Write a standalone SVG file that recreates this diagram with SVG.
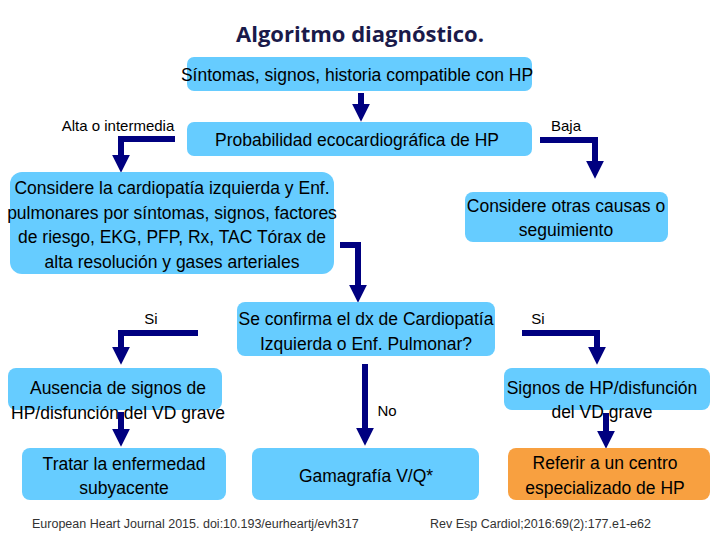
<svg xmlns="http://www.w3.org/2000/svg" width="720" height="540" viewBox="0 0 720 540">
<defs>
<style>
.b{fill:#66CCFF}
.o{fill:#F8A040}
text{font-family:"Liberation Sans",Arial,sans-serif;font-size:17.5px;fill:#000;text-anchor:middle}
.l{font-size:15px}
.f{font-size:12.5px;fill:#333;text-anchor:start}
.c{fill:none;stroke:#000080;stroke-width:6}
</style>
<marker id="a" markerWidth="3" markerHeight="3" refX="1.2" refY="1.5" orient="auto" markerUnits="strokeWidth"><path d="M0,0L3,1.5L0,3z" fill="#000080"/></marker>
</defs>
<rect width="720" height="540" fill="#fff"/>
<text x="360" y="42" style="font-family:'Open Sans',sans-serif;font-weight:bold;font-size:22px;fill:#1a1a4a">Algoritmo diagnóstico.</text>
<g id="connectors">
<path class="c" d="M361,93V111" marker-end="url(#a)"/>
<path class="c" d="M175,139H121V162" marker-end="url(#a)"/>
<path class="c" d="M540,140H595V168" marker-end="url(#a)"/>
<path class="c" d="M340,245H358V292" marker-end="url(#a)"/>
<path class="c" d="M198,333H121V354" marker-end="url(#a)"/>
<path class="c" d="M522,333H597V354" marker-end="url(#a)"/>
<path class="c" d="M365,364V435" marker-end="url(#a)"/>
<path class="c" d="M121,412V436" marker-end="url(#a)"/>
<path class="c" d="M606,413V438" marker-end="url(#a)"/>
</g>
<g id="n1"><rect class="b" x="187" y="57" width="345" height="34" rx="7"/><text x="357" y="81">Síntomas, signos, historia compatible con HP</text></g>
<g id="n2"><rect class="b" x="187" y="122" width="345" height="34" rx="7"/><text x="357" y="146">Probabilidad ecocardiográfica de HP</text></g>
<text x="118" y="131" class="l">Alta o intermedia</text>
<text x="566" y="131" class="l">Baja</text>
<g id="n3"><rect class="b" x="10" y="172" width="324" height="102" rx="12"/>
<text x="172" y="194">Considere la cardiopatía izquierda y Enf.</text>
<text x="172" y="219">pulmonares por síntomas, signos, factores</text>
<text x="172" y="243">de riesgo, EKG, PFP, Rx, TAC Tórax de</text>
<text x="172" y="268">alta resolución y gases arteriales</text></g>
<g id="n4"><rect class="b" x="465" y="192" width="203" height="50" rx="8"/>
<text x="566" y="212">Considere otras causas o</text><text x="566" y="236">seguimiento</text></g>
<g id="n5"><rect class="b" x="237" y="302" width="258" height="54" rx="8"/>
<text x="366" y="325">Se confirma el dx de Cardiopatía</text><text x="366" y="350">Izquierda o Enf. Pulmonar?</text></g>
<text x="151" y="324" class="l">Si</text>
<text x="538" y="324" class="l">Si</text>
<text x="387" y="416" class="l">No</text>
<g id="n6"><rect class="b" x="8" y="368" width="214" height="42" rx="8"/>
<text x="118" y="394">Ausencia de signos de</text><text x="118" y="419">HP/disfunción del VD grave</text></g>
<g id="n7"><rect class="b" x="504" y="368" width="206" height="42" rx="8"/>
<text x="602" y="394">Signos de HP/disfunción</text><text x="602" y="418">del VD grave</text></g>
<g id="n8"><rect class="b" x="22" y="448" width="204" height="52" rx="8"/>
<text x="124" y="470">Tratar la enfermedad</text><text x="124" y="494">subyacente</text></g>
<g id="n9"><rect class="b" x="252" y="448" width="227" height="52" rx="8"/>
<text x="366" y="482">Gamagrafía V/Q*</text></g>
<g id="n10"><rect class="o" x="508" y="448" width="202" height="52" rx="8"/>
<text x="605" y="469">Referir a un centro</text><text x="605" y="494">especializado de HP</text></g>
<text x="32" y="528" class="f">European Heart Journal 2015. doi:10.193/eurheartj/evh317</text>
<text x="430" y="528" class="f">Rev Esp Cardiol;2016:69(2):177.e1-e62</text>
</svg>
